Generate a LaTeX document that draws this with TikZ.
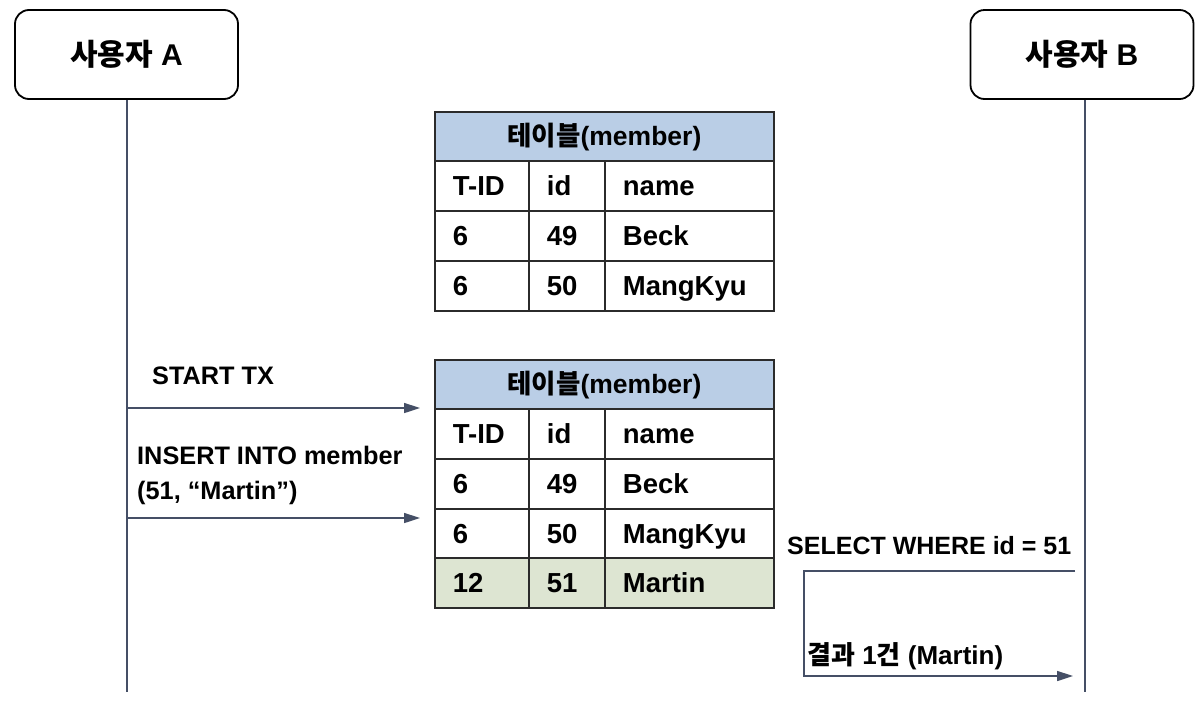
\documentclass[tikz,border=0pt]{standalone}
\usepackage{fontspec}
\setmainfont{Liberation Sans}
\newfontfamily\kr{Noto Sans CJK KR}
\usetikzlibrary{arrows.meta}
\definecolor{hdr}{HTML}{BACEE6}
\definecolor{newrow}{HTML}{DDE5D2}
\definecolor{wire}{HTML}{454F66}
\definecolor{bord}{HTML}{2B2B2B}
\tikzset{
  actor/.style={draw=black, line width=1.8pt, rounded corners=14pt, minimum width=223pt, minimum height=89pt, inner sep=0pt, font=\fontsize{30}{34}\selectfont\bfseries},
  cell/.style={draw=bord, line width=1.8pt, anchor=north west, minimum height=50pt, inner xsep=18pt, inner ysep=0pt, text height=19pt, text depth=0pt, align=left, font=\fontsize{27.5}{30}\selectfont\bfseries},
  lbl/.style={anchor=west, inner sep=0pt, align=left, font=\fontsize{25.3}{35}\selectfont\bfseries},
  life/.style={draw=wire, line width=1.6pt},
  msg/.style={draw=wire, line width=1.6pt, -{Triangle[length=16pt, width=10pt]}},
}
\newcommand{\tblrow}[6]{%
  \node[cell, fill=#6, text width=58pt] (#1a) at (434,#2) {#3};
  \node[cell, fill=#6, text width=40pt] (#1b) at (528,#2) {#4};
  \node[cell, fill=#6, text width=133pt] (#1c) at (604,#2) {#5};}
\begin{document}
\begin{tikzpicture}[x=1pt, y=-1pt]
\useasboundingbox (0,0) rectangle (1202,710);
% actors
\node[actor] (ua) at (126.5,54.5) {{\kr 사용자} A};
\node[actor] (ub) at (1082,54.5) {{\kr 사용자} B};
\coordinate (uaend) at (127,692);
\coordinate (ubend) at (1085,692);
\draw[life] (ua.south -| uaend) -- (uaend);
\draw[life] (ub.south -| ubend) -- (ubend);
% table 1
\node[cell, fill=hdr, text width=303pt, align=center, minimum height=49pt, font=\fontsize{26.5}{30}\selectfont\bfseries] (t1h) at (434,111) {{\kr 테이블}(member)};
\tblrow{t1r1}{160}{T-ID}{id}{name}{white}
\tblrow{t1r2}{210}{6}{49}{Beck}{white}
\tblrow{t1r3}{260}{6}{50}{MangKyu}{white}
% table 2
\node[cell, fill=hdr, text width=303pt, align=center, minimum height=49pt, font=\fontsize{26.5}{30}\selectfont\bfseries] (t2h) at (434,359) {{\kr 테이블}(member)};
\tblrow{t2r1}{408}{T-ID}{id}{name}{white}
\tblrow{t2r2}{458}{6}{49}{Beck}{white}
\tblrow{t2r3}{508}{6}{50}{MangKyu}{white}
\tblrow{t2r4}{557}{12}{51}{Martin}{newrow}
% messages from A
\coordinate (s1) at (127,408);
\coordinate (e1) at (420,408);
\coordinate (s2) at (127,518);
\coordinate (e2) at (420,518);
\draw[msg] (s1) -- (e1);
\draw[msg] (s2) -- (e2);
\node[lbl] (l1) at (152,376) {START TX};
\node[lbl] (l2) at (137,475.5) {INSERT INTO member\\(51, “Martin”)};
% query from B
\coordinate (q1) at (1075,571);
\coordinate (q2) at (804,571);
\coordinate (q3) at (804,676);
\coordinate (q4) at (1073,676);
\draw[msg] (q1) -- (q2) -- (q3) -- (q4);
\node[lbl, font=\fontsize{25}{30}\selectfont\bfseries] (l3) at (787,546) {SELECT WHERE id = 51};
\node[lbl, font=\fontsize{26}{30}\selectfont\bfseries] (l4) at (807,656) {{\kr 결과} 1{\kr 건} (Martin)};
\end{tikzpicture}
\end{document}
